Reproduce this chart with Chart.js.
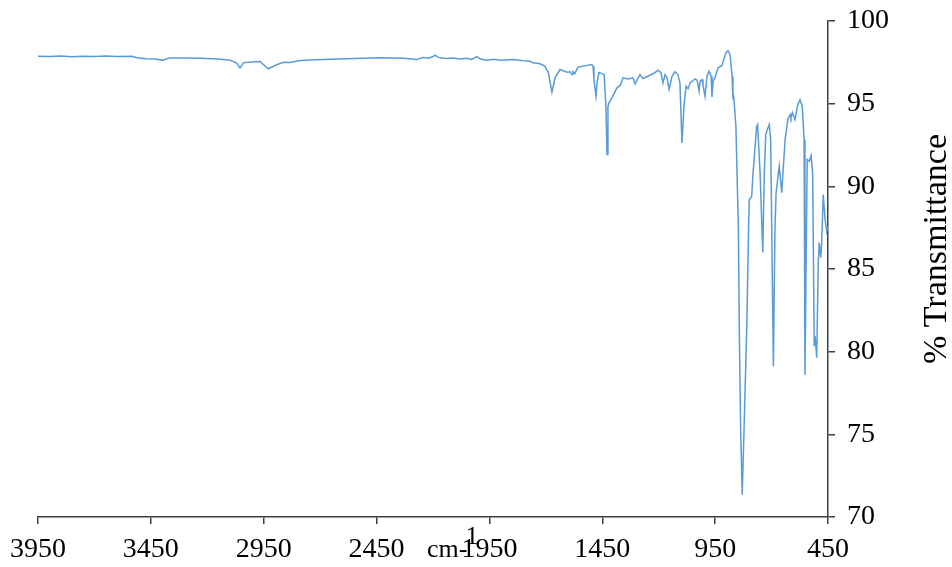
<!DOCTYPE html>
<html><head><meta charset="utf-8">
<script src="https://cdn.jsdelivr.net/npm/chart.js@4.4.0/dist/chart.umd.min.js"></script>
<style>html,body{margin:0;padding:0;background:#fff;}canvas{display:block;}</style>
</head><body>
<canvas id="c" width="952" height="567"></canvas>
<script>
const wavenumbers = [
  3950,3900,3850,3800,3750,3700,3650,3600,3534,3511,3470,3430,3396,3380,3365,3300,3232,3150,3099,3070,
  3055,3040,3033,3000,2966,2950,2931,2905,2878,2860,2834,2789,2720,2656,2550,2435,2330,2271,2244,2220,
  2200,2191,2175,2160,2138,2110,2080,2050,2030,2005,1990,1961,1930,1900,1846,1800,1770,1757,1726,1704,
  1695,1690,1673,1659,1637,1606,1593,1584,1580,1571,1558,1496,1491,1487,1478,1473,1465,1451,1442,1434,
  1429,1425,1420,1407,1385,1371,1358,1336,1314,1305,1283,1270,1225,1203,1190,1181,1172,1163,1154,1141,
  1128,1115,1106,1097,1088,1079,1070,1061,1039,1030,1021,1017,1008,1004,995,986,977,968,964,959,
  951,937,920,902,893,884,875,871,869,866,858,847,843,837,830,822,810,802,799,788,
  782,766,762,751,739,732,726,719,710,704,692,685,680,666,655,640,628,618,614,608,
  596,586,574,564,556,552,545,542,533,525,518,511,507,500,493,489,482,478,471,463,
  456,450
];
const transmittance = [
  97.87,97.85,97.88,97.84,97.87,97.85,97.88,97.86,97.87,97.78,97.72,97.70,97.62,97.72,97.76,97.76,97.75,97.70,97.62,97.45,
  97.17,97.45,97.49,97.52,97.55,97.35,97.11,97.28,97.43,97.50,97.49,97.61,97.66,97.69,97.73,97.77,97.75,97.67,97.79,97.75,
  97.85,97.93,97.80,97.76,97.73,97.76,97.70,97.75,97.68,97.85,97.70,97.63,97.68,97.62,97.67,97.60,97.57,97.47,97.41,97.27,
  97.02,96.94,95.69,96.58,97.07,96.90,96.93,96.76,96.94,96.82,97.21,97.37,97.27,96.46,95.45,96.28,96.88,96.82,96.76,94.83,
  91.92,94.83,95.07,95.37,95.96,96.10,96.56,96.50,96.56,96.20,96.76,96.52,96.81,97.02,96.87,96.26,96.76,96.56,95.86,96.66,
  96.93,96.76,96.26,92.63,94.85,96.06,95.90,96.26,96.50,96.42,95.75,96.36,96.46,96.16,95.45,96.66,96.96,96.66,95.41,96.36,
  96.56,97.17,97.31,98.08,98.20,97.97,96.66,95.25,95.55,95.15,93.64,87.39,81.39,75.29,71.35,75.29,81.39,87.39,89.20,89.40,
  90.83,93.64,93.74,90.83,86.00,90.83,93.13,93.44,93.74,92.83,79.12,87.39,89.61,91.22,89.61,92.83,94.04,94.34,94.14,94.45,
  94.04,94.85,95.25,94.85,92.83,78.61,88.00,91.62,91.52,91.86,90.83,80.33,80.93,79.63,85.39,86.60,85.69,86.60,89.50,87.99,
  87.28,87.59
];
const xTickValues = [3950,3450,2950,2450,1950,1450,950,450];
const yTickValues = [70,75,80,85,90,95,100];
const xAxisTitleMain = 'cm-';
const xAxisTitleSup = '1';
const yAxisTitle = '% Transmittance';

const FONT = "'Liberation Serif','Times New Roman',serif";
const AXIS = '#404040';

const titlePlugin = {
  id: 'titles',
  afterDraw(chart) {
    const ctx = chart.ctx;
    const ca = chart.chartArea;
    ctx.save();
    ctx.fillStyle = '#000';
    ctx.font = '26px ' + FONT;
    ctx.textBaseline = 'alphabetic';
    ctx.textAlign = 'left';
    const x0 = (ca.left + ca.right) / 2 - 6;
    const y0 = ca.bottom + 40;
    ctx.fillText(xAxisTitleMain, x0, y0);
    const w = ctx.measureText(xAxisTitleMain).width;
    ctx.fillText(xAxisTitleSup, x0 + w - 2, y0 - 13);
    ctx.translate(937, (ca.top + ca.bottom) / 2 - 20);
    ctx.rotate(-Math.PI / 2);
    ctx.font = '34px ' + FONT;
    ctx.textAlign = 'center';
    ctx.textBaseline = 'middle';
    ctx.fillText(yAxisTitle, 0, 0);
    ctx.restore();
  }
};

new Chart(document.getElementById('c'), {
  type: 'line',
  data: {
    datasets: [{
      data: wavenumbers.map((w, i) => ({x: w, y: transmittance[i]})),
      borderColor: '#5B9BD5',
      borderWidth: 1.5,
      pointRadius: 0,
      tension: 0,
      fill: false
    }]
  },
  options: {
    responsive: false,
    animation: false,
    devicePixelRatio: 1,
    layout: {padding: {left: 38, top: 21, right: 0, bottom: 0}},
    plugins: {legend: {display: false}, tooltip: {enabled: false}},
    scales: {
      x: {
        type: 'linear',
        reverse: true,
        min: 450, max: 3950,
        afterBuildTicks: (s) => { s.ticks = xTickValues.map(v => ({value: v})); },
        afterFit: (s) => { s.height = 50; s.paddingLeft = 0; s.paddingRight = 0; },
        ticks: {callback: (v) => String(v), color: '#000', font: {family: FONT, size: 28}, padding: 9, maxRotation: 0, autoSkip: false},
        grid: {display: true, drawOnChartArea: false, drawTicks: true, tickLength: 7, color: AXIS, lineWidth: 1.5},
        border: {display: true, color: AXIS, width: 1.5}
      },
      y: {
        type: 'linear',
        position: 'right',
        min: 70, max: 100,
        afterBuildTicks: (s) => { s.ticks = yTickValues.map(v => ({value: v})); },
        afterFit: (s) => { s.width = 124; s.paddingTop = 0; s.paddingBottom = 0; },
        ticks: {callback: (v) => String(v), color: '#000', font: {family: FONT, size: 28}, padding: 12, autoSkip: false},
        grid: {display: true, drawOnChartArea: false, drawTicks: true, tickLength: 7, color: AXIS, lineWidth: 1.5},
        border: {display: true, color: AXIS, width: 1.5}
      }
    }
  },
  plugins: [titlePlugin]
});
</script>
</body></html>
